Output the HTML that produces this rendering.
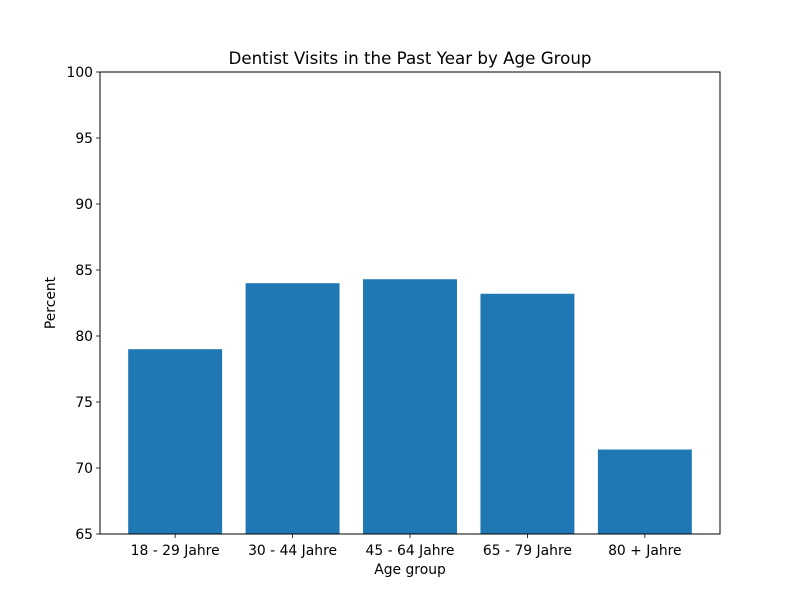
<!DOCTYPE html>
<html><head><meta charset="utf-8"><style>
body{margin:0;background:#fff;}
text{font-family:"DejaVu Sans","Liberation Sans",sans-serif;fill:#000;}
</style></head><body>
<svg id="chart" width="800" height="600" xmlns="http://www.w3.org/2000/svg">
<rect width="800" height="600" fill="#fff"/>
<text x="410" y="64" font-size="16.7" text-anchor="middle">Dentist Visits in the Past Year by Age Group</text>
<g id="bars"></g>
<g id="axes"></g>
<text x="410" y="574" font-size="13.9" text-anchor="middle">Age group</text>
<text transform="translate(55,303) rotate(-90)" font-size="13.9" text-anchor="middle">Percent</text>
</svg>
<script>
const categories=["18 - 29 Jahre","30 - 44 Jahre","45 - 64 Jahre","65 - 79 Jahre","80 + Jahre"];
const values=[79,84,84.3,83.2,71.4];
const yTicks=[65,70,75,80,85,90,95,100];
const L=100,R=720,T=72,B=534,yMin=65,yMax=100,xMin=-0.64,xMax=categories.length-1+0.64;
const ns="http://www.w3.org/2000/svg";
function y(v){return B-(v-yMin)/(yMax-yMin)*(B-T);}
function x(i){return L+(i-xMin)/(xMax-xMin)*(R-L);}
function mk(t,a,p){const e=document.createElementNS(ns,t);for(const k in a)e.setAttribute(k,a[k]);p.appendChild(e);return e;}
const bars=document.getElementById('bars'),axes=document.getElementById('axes');
const bw=0.8*(R-L)/(xMax-xMin);
values.forEach((v,i)=>{
 const r=mk('rect',{x:x(i)-bw/2,y:y(v),width:bw,height:B-y(v),fill:'#1f77b4'},bars);
 
 
 mk('line',{x1:x(i),x2:x(i),y1:B,y2:B+4,stroke:'#000','stroke-width':0.8},axes);
 const t=mk('text',{x:x(i),y:B+21,'font-size':13.9,'text-anchor':'middle'},axes);
 t.textContent=categories[i];
 
 
});
yTicks.forEach(v=>{
 mk('line',{x1:L-4,x2:L,y1:y(v),y2:y(v),stroke:'#000','stroke-width':0.8},axes);
 const t=mk('text',{x:L-7,y:y(v)+5,'font-size':13.9,'text-anchor':'end'},axes);
 t.textContent=v;
 
 
});
const f=mk('rect',{x:L,y:T,width:R-L,height:B-T,fill:'none',stroke:'#000','stroke-width':1},axes);


</script>
</body></html>
